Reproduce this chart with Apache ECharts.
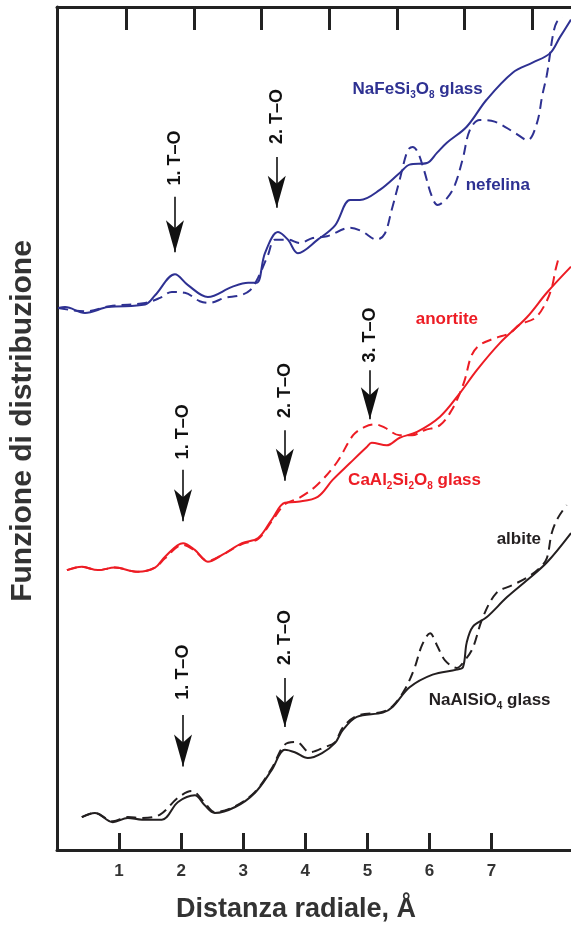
<!DOCTYPE html>
<html>
<head>
<meta charset="utf-8">
<script src="https://cdn.jsdelivr.net/npm/echarts@6/dist/echarts.min.js"></script>
<style>
  html, body { margin: 0; padding: 0; background: #ffffff; }
  #chart { width: 571px; height: 931px; }
</style>
</head>
<body>
<div id="chart"></div>
<script>
// Radial distribution functions: glasses (solid) vs. crystalline analogues (dashed).
// x = radial distance (Å), y = stacked distribution function (arbitrary units, offset curves).

const xTicks = [1, 2, 3, 4, 5, 6, 7];

// NaFeSi3O8 glass
const feGlass = [[0.02,64.3],[0.13,64.4],[0.45,63.7],[0.82,64.4],[1.42,64.7],[1.58,65.8],[1.90,68.3],[2.11,67.0],[2.43,65.6],[2.82,66.8],[3.08,67.3],[3.22,67.3],[3.35,70.8],[3.56,73.3],[3.72,72.4],[3.88,70.8],[4.20,72.4],[4.48,74.1],[4.72,77.1],[4.88,77.1],[5.20,78.3],[5.52,80.3],[5.68,81.3],[5.96,81.5],[6.12,82.7],[6.28,83.9],[6.60,85.8],[6.92,89.0],[7.34,92.2],[7.66,93.4],[7.94,94.5],[8.10,96.4],[8.28,98.5]];
// nefelina (crystal)
const nefelina = [[0.02,64.3],[0.45,63.9],[0.85,64.5],[1.42,64.9],[1.66,65.5],[1.85,66.2],[2.06,66.1],[2.30,65.1],[2.46,64.9],[2.70,65.5],[2.95,65.8],[3.11,66.4],[3.24,67.9],[3.40,70.6],[3.51,72.4],[3.72,72.4],[3.91,72.0],[4.12,72.6],[4.35,72.8],[4.72,73.8],[4.91,73.4],[5.15,72.4],[5.28,73.1],[5.39,75.9],[5.52,79.5],[5.65,83.0],[5.73,83.4],[5.81,82.8],[5.91,80.7],[6.04,77.5],[6.13,76.5],[6.28,77.3],[6.41,78.9],[6.54,82.1],[6.65,85.4],[6.81,86.6],[7.05,86.4],[7.37,85.1],[7.58,84.2],[7.73,86.2],[7.82,89.6],[7.89,91.9],[7.94,94.3],[7.99,96.7],[8.05,98.2],[8.15,98.7]];

// CaAl2Si2O8 glass
const caGlass = [[0.16,33.2],[0.40,33.6],[0.66,33.2],[0.93,33.5],[1.30,33.0],[1.58,33.5],[1.74,34.8],[2.03,36.4],[2.22,35.6],[2.43,34.2],[2.66,35.0],[2.98,36.4],[3.24,37.0],[3.46,39.2],[3.67,41.2],[3.88,41.3],[4.20,41.9],[4.44,43.9],[4.72,45.9],[4.99,47.8],[5.07,48.3],[5.31,48.0],[5.52,48.9],[5.80,49.6],[6.17,51.4],[6.49,54.2],[6.76,56.9],[7.13,60.1],[7.57,63.2],[7.89,66.1],[8.28,69.2]];
// anortite (crystal)
const anortite = [[0.16,33.2],[0.40,33.6],[0.66,33.2],[0.93,33.5],[1.30,33.0],[1.58,33.5],[1.74,34.6],[2.03,36.2],[2.22,35.5],[2.43,34.3],[2.66,35.0],[2.98,36.3],[3.24,36.9],[3.46,39.0],[3.67,41.0],[3.91,41.8],[4.19,43.3],[4.51,46.0],[4.77,49.2],[4.96,50.2],[5.12,50.5],[5.28,50.1],[5.52,49.2],[5.72,49.2],[5.92,49.8],[6.17,50.4],[6.36,52.2],[6.49,54.2],[6.57,55.8],[6.68,58.7],[6.81,59.9],[7.05,60.7],[7.29,61.3],[7.45,62.3],[7.70,63.1],[7.86,64.7],[7.97,66.7],[8.03,68.8],[8.08,70.2]];

// NaAlSiO4 glass
const naGlass = [[0.40,3.9],[0.61,4.4],[0.90,3.3],[1.14,3.8],[1.37,3.6],[1.69,3.6],[1.95,5.7],[2.22,6.5],[2.38,5.3],[2.54,4.4],[2.87,5.1],[3.19,6.8],[3.46,9.5],[3.67,11.9],[3.83,11.6],[4.04,10.9],[4.27,11.5],[4.48,12.7],[4.60,14.2],[4.83,15.8],[5.25,16.3],[5.41,17.0],[5.68,19.3],[6.05,20.8],[6.44,21.4],[6.54,21.7],[6.60,24.6],[6.70,26.5],[6.92,27.6],[7.25,30.0],[7.57,32.0],[7.89,34.1],[8.28,37.6]];
// albite (crystal)
const albite = [[0.40,3.9],[0.61,4.4],[0.90,3.4],[1.14,3.9],[1.37,3.8],[1.66,4.2],[1.95,6.2],[2.17,7.0],[2.38,5.6],[2.54,4.5],[2.87,5.2],[3.19,6.9],[3.46,9.7],[3.67,12.5],[3.86,12.8],[4.07,11.6],[4.31,12.2],[4.48,12.8],[4.60,14.5],[4.83,15.9],[5.25,16.4],[5.41,17.1],[5.60,19.0],[5.76,21.6],[5.88,24.3],[6.01,25.7],[6.12,24.3],[6.25,22.5],[6.44,21.6],[6.57,22.5],[6.70,24.0],[6.86,27.6],[7.08,30.5],[7.33,31.4],[7.57,32.3],[7.78,33.5],[7.89,34.6],[7.97,37.6],[8.07,39.4],[8.21,40.9]];

// T–O neighbour shells: [x, arrow start y, arrow end y, label y, label]
const feShells = [[1.90,77.5,70.9,82.1,'1. T–O'],[3.54,82.2,76.2,87.0,'2. T–O']];
const caShells = [[2.03,45.1,39.0,49.6,'1. T–O'],[3.67,49.8,43.8,54.5,'2. T–O'],[5.04,56.9,51.1,61.1,'3. T–O']];
const naShells = [[2.03,16.0,9.9,21.1,'1. T–O'],[3.67,20.4,14.6,25.2,'2. T–O']];

// Curve names: [x, y, text]
const feNames = [[5.81,90.2,'NaFeSi{s|3}O{s|8} glass'],[7.10,78.9,'nefelina']];
const caNames = [[6.28,62.9,'anortite'],[5.76,43.9,'CaAl{s|2}Si{s|2}O{s|8} glass']];
const naNames = [[7.44,36.8,'albite'],[6.97,17.8,'NaAlSiO{s|4} glass']];

const BLUE = '#2e3192', RED = '#ed1c24', BLACK = '#231f20', AXIS = '#222222', TEXT = '#333333';
const FONT = "'Liberation Sans', Arial, Helvetica, sans-serif";

function curve(name, data, color, dashed, shells) {
  const s = {
    name, type: 'line', data, smooth: 0.35, symbol: 'none', silent: true,
    lineStyle: { color, width: 2, type: dashed ? [10, 6] : 'solid' },
    itemStyle: { color },
    z: dashed ? 3 : 4
  };
  if (shells) {
    s.markLine = {
      silent: true, animation: false,
      symbol: ['none', 'arrow'],
      label: { show: false },
      emphasis: { disabled: true },
      lineStyle: { color: '#111111', width: 1.6, type: 'solid' },
      data: shells.map(d => [
        { coord: [d[0], d[1]], symbol: 'none' },
        { coord: [d[0], d[2]], symbol: 'arrow', symbolSize: [13.5, 32] }
      ])
    };
  }
  return s;
}

function texts(name, items, color, size, rotate) {
  return {
    name, type: 'scatter', silent: true, symbolSize: 1, z: 6,
    itemStyle: { color: 'rgba(0,0,0,0)', opacity: 1 },
    data: items.map(d => ({ value: [d[0], d[1]], label: { formatter: d[2] } })),
    label: {
      show: true, position: 'inside', rotate: rotate || 0, opacity: 1,
      color, fontSize: size, fontWeight: 'bold', fontFamily: FONT, lineHeight: 22,
      rich: { s: { fontSize: 10, fontWeight: 'bold', fontFamily: FONT, color, lineHeight: 8, verticalAlign: 'bottom' } }
    }
  };
}

const shellLabel = list => list.map(d => [d[0], d[3], d[4]]);

const chart = echarts.init(document.getElementById('chart'), null, { renderer: 'canvas' });
chart.setOption({
  animation: false,
  backgroundColor: '#ffffff',
  grid: { left: 57, top: 7, right: 0, height: 843 },
  xAxis: [
    {
      type: 'value', position: 'bottom', min: 0, max: 8.28,
      axisLine: { show: true, onZero: false, lineStyle: { color: AXIS, width: 3 } },
      axisTick: { show: true, inside: true, length: 17, customValues: xTicks, lineStyle: { color: AXIS, width: 3 } },
      axisLabel: { customValues: xTicks, margin: 13, color: TEXT, fontSize: 17, fontWeight: 'bold', fontFamily: FONT },
      splitLine: { show: false }
    },
    {
      type: 'value', position: 'top', min: -0.02, max: 7.57,
      axisLine: { show: true, onZero: false, lineStyle: { color: AXIS, width: 3 } },
      axisTick: { show: true, inside: true, length: 23, customValues: xTicks, lineStyle: { color: AXIS, width: 3 } },
      axisLabel: { show: false },
      splitLine: { show: false }
    }
  ],
  yAxis: {
    type: 'value', min: 0, max: 100,
    axisLine: { show: true, onZero: false, lineStyle: { color: AXIS, width: 3 } },
    axisTick: { show: false }, axisLabel: { show: false }, splitLine: { show: false }
  },
  graphic: [
    {
      type: 'text', x: 23, y: 421, rotation: Math.PI / 2, silent: true,
      style: { text: 'Funzione di distribuzione', fill: TEXT, fontSize: 30, fontWeight: 'bold', fontFamily: FONT, align: 'center', verticalAlign: 'middle' }
    },
    {
      type: 'text', x: 296, y: 910, silent: true,
      style: { text: 'Distanza radiale, Å', fill: TEXT, fontSize: 27, fontWeight: 'bold', fontFamily: FONT, align: 'center', verticalAlign: 'middle' }
    }
  ],
  series: [
    curve('nefelina', nefelina, BLUE, true),
    curve('NaFeSi3O8 glass', feGlass, BLUE, false, feShells),
    curve('anortite', anortite, RED, true),
    curve('CaAl2Si2O8 glass', caGlass, RED, false, caShells),
    curve('albite', albite, BLACK, true),
    curve('NaAlSiO4 glass', naGlass, BLACK, false, naShells),
    texts('nomi Fe', feNames, BLUE, 17),
    texts('nomi Ca', caNames, RED, 17),
    texts('nomi Na', naNames, BLACK, 17),
    texts('picchi', shellLabel(feShells).concat(shellLabel(caShells), shellLabel(naShells)), '#111111', 18, 90)
  ]
});
</script>
</body>
</html>
